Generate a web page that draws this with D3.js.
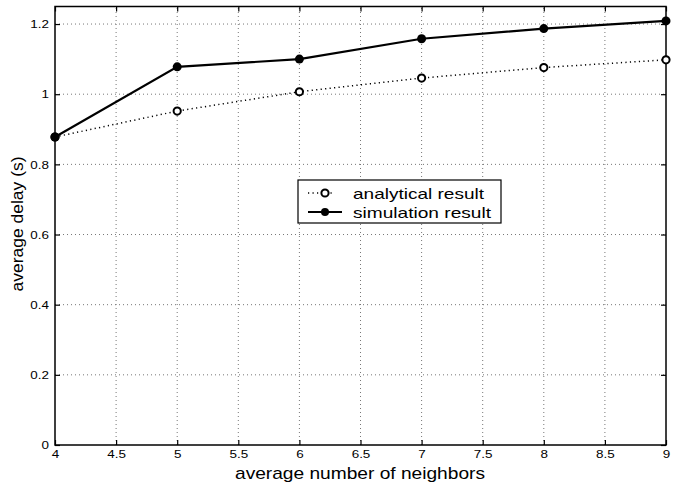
<!DOCTYPE html>
<html><head><meta charset="utf-8">
<script src="https://cdn.jsdelivr.net/npm/d3@7"></script>
<style>body{margin:0;background:#fff}svg{display:block}text{font-family:"Liberation Sans",Arial,Helvetica,sans-serif}</style>
</head><body>
<script>
const neighbors = [4, 5, 6, 7, 8, 9];
const analytical = [0.878, 0.952, 1.007, 1.046, 1.076, 1.098];
const simulation = [0.878, 1.078, 1.100, 1.158, 1.187, 1.209];
const xTicks = [4, 4.5, 5, 5.5, 6, 6.5, 7, 7.5, 8, 8.5, 9];
const yTicks = [0, 0.2, 0.4, 0.6, 0.8, 1, 1.2];
const seriesNames = ["analytical result", "simulation result"];

const W = 679, H = 485;
const m = {l: 55, r: 13, t: 6.5, b: 40};
const svg = d3.select("body").append("svg").attr("width", W).attr("height", H);
const x = d3.scaleLinear().domain([4, 9]).range([m.l, W - m.r]);
const y = d3.scaleLinear().domain([0, 1.25]).range([H - m.b, m.t]);
const x0 = m.l, x1 = W - m.r, y0 = H - m.b, y1 = m.t;
const SX = 1.17;

// grid
const g = svg.append("g");
g.selectAll(".gx").data(xTicks.slice(1, -1)).join("line")
  .attr("x1", d => x(d)).attr("x2", d => x(d)).attr("y1", y0).attr("y2", y1)
  .attr("stroke", "#777").attr("stroke-width", 1).attr("stroke-dasharray", "1,3");
g.selectAll(".gy").data(yTicks.slice(1)).join("line")
  .attr("y1", d => y(d)).attr("y2", d => y(d)).attr("x1", x0).attr("x2", x1)
  .attr("stroke", "#777").attr("stroke-width", 1).attr("stroke-dasharray", "1,3");

// axes
const ax = svg.append("g").attr("transform", `translate(0,${y0})`)
  .call(d3.axisBottom(x).tickValues(xTicks).tickSize(-5).tickPadding(5).tickFormat(d3.format("")));
const axT = svg.append("g").attr("transform", `translate(0,${y1})`)
  .call(d3.axisTop(x).tickValues(xTicks).tickSize(-5).tickFormat(""));
const ay = svg.append("g").attr("transform", `translate(${x0},0)`)
  .call(d3.axisLeft(y).tickValues(yTicks).tickSize(-5).tickPadding(5).tickFormat(d3.format("")));
const ayR = svg.append("g").attr("transform", `translate(${x1},0)`)
  .call(d3.axisRight(y).tickValues(yTicks).tickSize(-5).tickFormat(""));
[ax, axT, ay, ayR].forEach(a => {
  a.select(".domain").remove();
  a.selectAll(".tick line").attr("stroke", "#000").attr("stroke-width", 1.2);
  a.selectAll("text").attr("font-size", 11.5).attr("fill", "#000");
});
ax.selectAll("text").attr("transform", `scale(${SX},1)`);
ay.selectAll("text").attr("x", -6 / SX).attr("transform", `scale(${SX},1)`);
svg.append("rect").attr("x", x0).attr("y", y1).attr("width", x1 - x0).attr("height", y0 - y1)
  .attr("fill", "none").attr("stroke", "#000").attr("stroke-width", 1.5);

// lines
const lineA = d3.line().x((d, i) => x(neighbors[i])).y(d => y(d));
svg.append("path").datum(analytical).attr("d", lineA).attr("fill", "none")
  .attr("stroke", "#000").attr("stroke-width", 1.5).attr("stroke-dasharray", "1.2,3.3");
svg.append("path").datum(simulation).attr("d", lineA).attr("fill", "none")
  .attr("stroke", "#000").attr("stroke-width", 2.2);
svg.selectAll(".ma").data(analytical).join("circle")
  .attr("cx", (d, i) => x(neighbors[i])).attr("cy", d => y(d)).attr("r", 3.6)
  .attr("fill", "#fff").attr("stroke", "#000").attr("stroke-width", 2);
svg.selectAll(".ms").data(simulation).join("circle")
  .attr("cx", (d, i) => x(neighbors[i])).attr("cy", d => y(d)).attr("r", 4.5)
  .attr("fill", "#000");

// legend
const lg = svg.append("g");
lg.append("rect").attr("x", 298).attr("y", 180).attr("width", 203).attr("height", 43)
  .attr("fill", "#fff").attr("stroke", "#000").attr("stroke-width", 1.2);
const rowsY = [193, 212];
lg.append("line").attr("x1", 308).attr("x2", 334).attr("y1", rowsY[0]).attr("y2", rowsY[0])
  .attr("stroke", "#000").attr("stroke-width", 1.5).attr("stroke-dasharray", "1.2,3.3");
lg.append("circle").attr("cx", 325).attr("cy", rowsY[0]).attr("r", 3.6)
  .attr("fill", "#fff").attr("stroke", "#000").attr("stroke-width", 2);
lg.append("line").attr("x1", 308).attr("x2", 342).attr("y1", rowsY[1]).attr("y2", rowsY[1])
  .attr("stroke", "#000").attr("stroke-width", 2.2);
lg.append("circle").attr("cx", 325).attr("cy", rowsY[1]).attr("r", 4).attr("fill", "#000");
const legendWidths = [131, 138];
lg.selectAll(".lt").data(seriesNames).join("text")
  .attr("x", 353).attr("y", (d, i) => rowsY[i] + 5.5).attr("font-size", 15)
  .attr("textLength", (d, i) => legendWidths[i]).attr("lengthAdjust", "spacingAndGlyphs")
  .text(d => d);

// labels
svg.append("text").attr("x", 360).attr("y", 479).attr("text-anchor", "middle")
  .attr("font-size", 17).attr("textLength", 250).attr("lengthAdjust", "spacingAndGlyphs")
  .text("average number of neighbors");
svg.append("text").attr("transform", `translate(23,224) rotate(-90)`)
  .attr("text-anchor", "middle").attr("font-size", 17).attr("textLength", 135)
  .attr("lengthAdjust", "spacingAndGlyphs").text("average delay (s)");
</script>
</body></html>
